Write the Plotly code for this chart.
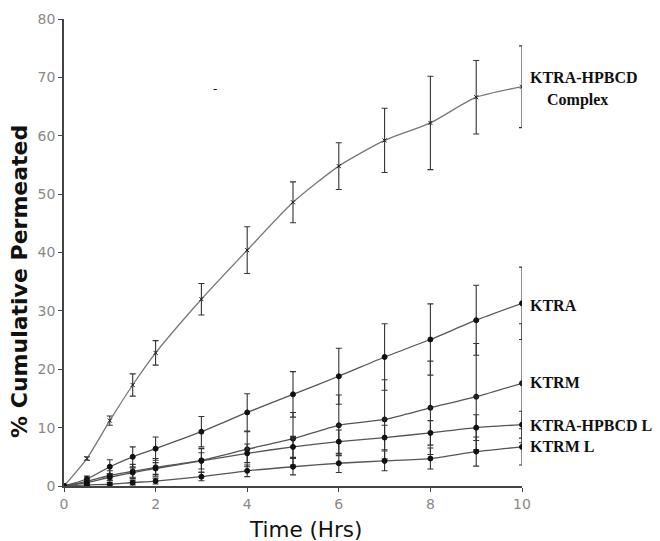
import plotly.graph_objects as go

time_hrs = [0, 0.5, 1, 1.5, 2, 3, 4, 5, 6, 7, 8, 9, 10]

complex_vals = [0, 4.7, 11.2, 17.3, 22.8, 32.0, 40.4, 48.6, 54.8, 59.2, 62.2, 66.6, 68.4]
complex_err = [0, 0.3, 0.8, 1.9, 2.1, 2.7, 4.0, 3.5, 4.0, 5.5, 8.0, 6.3, 7.0]

ktra_vals = [0, 1.2, 3.3, 5.0, 6.4, 9.3, 12.6, 15.7, 18.8, 22.1, 25.1, 28.4, 31.3]
ktra_err = [0, 0.5, 1.2, 1.7, 2.0, 2.6, 3.2, 3.9, 4.8, 5.7, 6.1, 6.0, 6.2]

ktrm_vals = [0, 0.8, 1.8, 2.5, 3.2, 4.4, 6.3, 8.1, 10.4, 11.4, 13.4, 15.3, 17.6]
ktrm_err = [0, 0.4, 0.8, 1.2, 1.5, 2.0, 3.0, 4.5, 5.2, 6.8, 8.0, 9.1, 10.2]

hpbcdl_vals = [0, 0.6, 1.5, 2.3, 3.0, 4.3, 5.6, 6.7, 7.6, 8.3, 9.1, 10.0, 10.5]
hpbcdl_err = [0, 0.3, 0.6, 0.8, 1.0, 1.4, 1.6, 1.8, 2.0, 2.1, 2.1, 2.2, 2.3]

ktrml_vals = [0, 0.2, 0.3, 0.6, 0.85, 1.6, 2.6, 3.3, 3.9, 4.3, 4.7, 5.9, 6.7]
ktrml_err = [0, 0.2, 0.3, 0.4, 0.5, 0.7, 1.0, 1.4, 1.6, 1.7, 1.8, 2.5, 3.1]

x_ticks = [0, 2, 4, 6, 8, 10]
y_ticks = [0, 10, 20, 30, 40, 50, 60, 70, 80]

labels = [
    ("KTRA-HPBCD", 1.014, 69.9),
    ("Complex", 1.05, 66.1),
    ("KTRA", 1.014, 31.0),
    ("KTRM", 1.014, 17.8),
    ("KTRA-HPBCD L", 1.014, 10.4),
    ("KTRM L", 1.014, 6.7),
]

x_title = "Time (Hrs)"
y_title = "% Cumulative Permeated"

fig = go.Figure()

def add_series(y, err, line_color, marker_symbol, marker_color, marker_size):
    fig.add_trace(go.Scatter(
        x=time_hrs, y=y,
        mode="lines+markers",
        line=dict(color=line_color, width=1.3, shape="spline", smoothing=0.6),
        marker=dict(symbol=marker_symbol, size=marker_size, color=marker_color,
                    line=dict(color="#111", width=1)),
        error_y=dict(type="data", array=err, visible=True, color="#333",
                     thickness=1.1, width=3),
        showlegend=False,
    ))

add_series(complex_vals, complex_err, "#777777", "x-thin", "#444", 4)
add_series(ktra_vals, ktra_err, "#555555", "circle", "#111", 5)
add_series(ktrm_vals, ktrm_err, "#555555", "circle", "#222", 5)
add_series(hpbcdl_vals, hpbcdl_err, "#555555", "circle", "#111", 5)
add_series(ktrml_vals, ktrml_err, "#555555", "circle", "#111", 5)

for text, px, py in labels:
    fig.add_annotation(
        x=px, y=py, xref="paper", yref="y", text="<b>" + text + "</b>", showarrow=False,
        xanchor="left", yanchor="middle",
        font=dict(family="Liberation Serif", size=16, color="#111"),
    )

fig.add_annotation(x=3.3, y=68.0, xref="x", yref="y", text="-", showarrow=False,
                   font=dict(family="DejaVu Sans", size=12, color="#111"))

fig.add_annotation(x=0.528, y=-0.094, xref="paper", yref="paper", text=x_title,
                   showarrow=False, xanchor="center", yanchor="middle",
                   font=dict(family="DejaVu Sans", size=21.5, color="#111"))
fig.add_annotation(x=-0.096, y=0.437, xref="paper", yref="paper",
                   text="<b>" + y_title + "</b>", textangle=-90,
                   showarrow=False, xanchor="center", yanchor="middle",
                   font=dict(family="DejaVu Sans", size=22, color="#111"))

fig.update_layout(
    width=660, height=541,
    margin=dict(l=64, r=138, t=19, b=55),
    paper_bgcolor="white", plot_bgcolor="white",
    xaxis=dict(
        range=[0, 10], tickvals=x_ticks, showgrid=False, zeroline=False,
        showline=True, linecolor="#444", linewidth=1.5,
        ticks="outside", ticklen=4, tickcolor="#444",
        tickfont=dict(family="DejaVu Sans", size=14, color="#888"),
    ),
    yaxis=dict(
        range=[0, 80], tickvals=y_ticks, showgrid=False, zeroline=False,
        showline=True, linecolor="#444", linewidth=1.5,
        ticks="outside", ticklen=4, tickcolor="#444",
        tickfont=dict(family="DejaVu Sans", size=14, color="#888"),
    ),
)

fig.write_html("out.html")
